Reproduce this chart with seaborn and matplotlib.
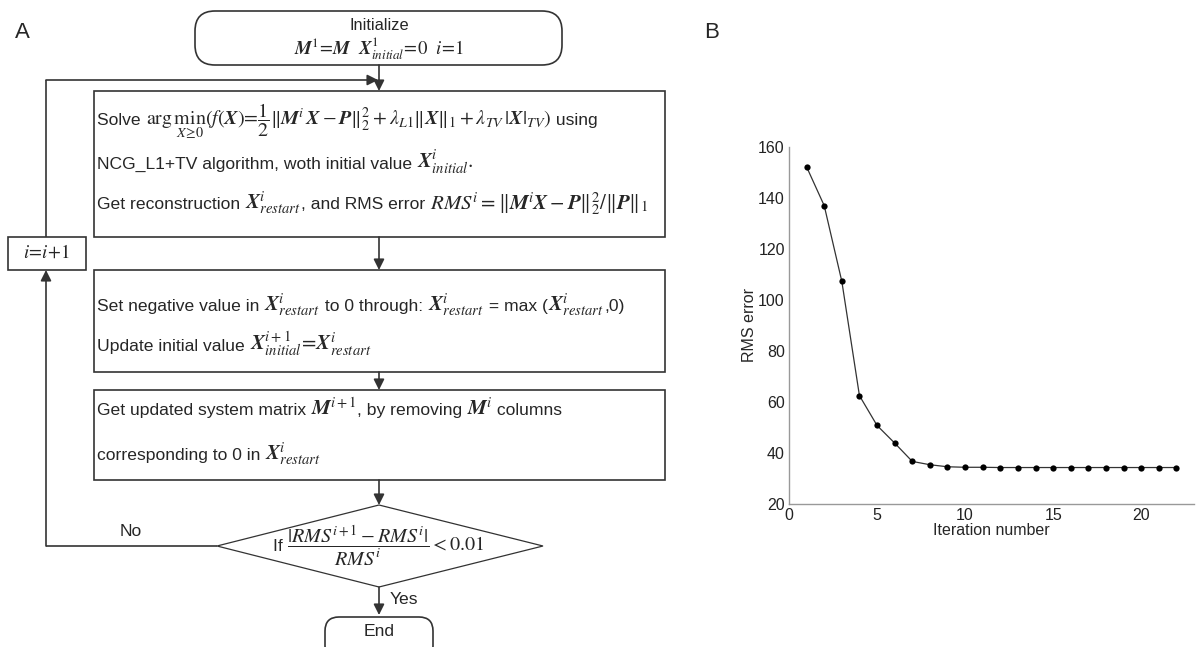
import numpy as np
import pandas as pd
import matplotlib
matplotlib.use("Agg")
import matplotlib.pyplot as plt
import seaborn as sns
from matplotlib.patches import FancyBboxPatch, Rectangle, Polygon

# ---------------- data ----------------
iterations = list(range(1, 23))
rms_error = [152.2, 137.0, 107.3, 62.5, 50.8, 43.9, 36.7, 35.4, 34.6, 34.4, 34.4,
             34.3, 34.3, 34.3, 34.3, 34.3, 34.3, 34.3, 34.3, 34.3, 34.3, 34.3]
x_ticks = [0, 5, 10, 15, 20]
y_ticks = [20, 40, 60, 80, 100, 120, 140, 160]
x_label = "Iteration number"
y_label = "RMS error"
panel_labels = ["A", "B"]

# flowchart texts: segments of (string, kind) with kind 't' = plain text, 'm' = math
init_title = "Initialize"
init_formula = [(r"$\mathbfit{M}^1\!=\!\mathbfit{M}\ \ \mathbfit{X}^1_{initial}\!=\!0\ \ i\!=\!1$", "m")]
solve_lines = [
    [("Solve ", "t"),
     (r"$\arg\min_{X\geq 0}(f(\mathbfit{X}) = \dfrac{1}{2}\Vert\mathbfit{M}^i\mathbfit{X}-\mathbfit{P}\Vert_2^2+\lambda_{L1}\Vert\mathbfit{X}\Vert_1+\lambda_{TV}\,|\mathbfit{X}|_{TV})$", "m"),
     (" using", "t")],
    [("NCG_L1+TV algorithm, woth initial value ", "t"),
     (r"$\mathbfit{X}^i_{initial}.$", "m")],
    [("Get reconstruction ", "t"), (r"$\mathbfit{X}^i_{restart}$", "m"),
     (", and RMS error ", "t"),
     (r"$RMS^i=\Vert\mathbfit{M}^i\mathbfit{X}-\mathbfit{P}\Vert_2^2/\Vert\mathbfit{P}\Vert_1$", "m")],
]
set_lines = [
    [("Set negative value in ", "t"), (r"$\mathbfit{X}^i_{restart}$", "m"),
     (" to 0 through: ", "t"), (r"$\mathbfit{X}^i_{restart}$", "m"),
     (" = max (", "t"), (r"$\mathbfit{X}^i_{restart}$", "m"), (",0)", "t")],
    [("Update initial value ", "t"),
     (r"$\mathbfit{X}^{i+1}_{initial}\!=\!\mathbfit{X}^i_{restart}$", "m")],
]
update_lines = [
    [("Get updated system matrix ", "t"), (r"$\mathbfit{M}^{i+1}$", "m"),
     (", by removing ", "t"), (r"$\mathbfit{M}^i$", "m"), (" columns", "t")],
    [("corresponding to 0 in ", "t"), (r"$\mathbfit{X}^i_{restart}$", "m")],
]
loop_label = [(r"$i\!=\!i\!+\!1$", "m")]
cond_label = [("If ", "t"),
              (r"$\dfrac{|RMS^{i+1}-RMS^i|}{RMS^i}<0.01$", "m")]
no_label, yes_label, end_label = "No", "Yes", "End"

# ---------------- style ----------------
sns.set_style("white")
plt.rcParams["font.family"] = ["Liberation Sans", "DejaVu Sans"]
plt.rcParams["mathtext.fontset"] = "stix"

fig = plt.figure(figsize=(12, 6.47), dpi=100)

# ---------------- panel A: flowchart ----------------
ax0 = fig.add_axes([0, 0, 1, 1])
ax0.set_xlim(0, 1200)
ax0.set_ylim(647, 0)
ax0.axis("off")
fig.canvas.draw()
renderer = fig.canvas.get_renderer()

LC = "#333333"
LW = 1.2
FS = 12.6
FSM = 15.0
CX = 379


def arrow(x0, y0, x1, y1):
    ax0.annotate("", xy=(x1, y1), xytext=(x0, y0),
                 arrowprops=dict(arrowstyle="-|>", color=LC, lw=LW,
                                 mutation_scale=16, shrinkA=0, shrinkB=0))


def line(xs, ys):
    ax0.plot(xs, ys, color=LC, lw=LW, solid_capstyle="butt")


def rbox(x0, y0, x1, y1, r):
    ax0.add_patch(FancyBboxPatch((x0, y0), x1 - x0, y1 - y0,
                                 boxstyle=f"round,pad=0,rounding_size={r}",
                                 fc="white", ec=LC, lw=LW))


def box(x0, y0, x1, y1):
    ax0.add_patch(Rectangle((x0, y0), x1 - x0, y1 - y0, fc="white", ec=LC, lw=LW))


def seg_line(x, y, segs, center=False, fs=FS, fsm=FSM):
    texts, widths = [], []
    for s, kind in segs:
        t = ax0.text(0, y, s, fontsize=fs if kind == "t" else fsm,
                     ha="left", va="baseline", zorder=5)
        w = t.get_window_extent(renderer).width
        texts.append(t)
        widths.append(w)
    total = sum(widths)
    cur = x - total / 2 if center else x
    for t, w in zip(texts, widths):
        t.set_x(cur)
        cur += w


# panel labels
ax0.text(22, 32, panel_labels[0], fontsize=16, ha="center", va="center")
ax0.text(712, 32, panel_labels[1], fontsize=16, ha="center", va="center")

# initialize
rbox(195, 11, 562, 65, 20)
ax0.text(CX, 25, init_title, fontsize=FS - 0.8, ha="center", va="center")
seg_line(CX, 55, init_formula, center=True, fsm=13.5)
arrow(CX, 65, CX, 91)

# solve box
box(94, 91, 665, 237)
seg_line(97, 125, solve_lines[0], fsm=14.4)
seg_line(97, 169, solve_lines[1])
seg_line(97, 209, solve_lines[2])
arrow(CX, 237, CX, 270)

# set box
box(94, 270, 665, 372)
for y, segs in zip([311, 351], set_lines):
    seg_line(97, y, segs)
arrow(CX, 372, CX, 390)

# update box
box(94, 390, 665, 480)
for y, segs in zip([415, 460], update_lines):
    seg_line(97, y, segs)
arrow(CX, 480, CX, 505)

# diamond
ax0.add_patch(Polygon([(CX, 505), (543, 546), (CX, 587), (217, 546)],
                      closed=True, fc="white", ec=LC, lw=0.9))
seg_line(CX, 551, cond_label, center=True, fsm=14.5)

# yes / end
arrow(CX, 587, CX, 615)
ax0.text(390, 600, yes_label, fontsize=FS, ha="left", va="center")
rbox(325, 617, 433, 660, 14)
ax0.text(CX, 632, end_label, fontsize=FS, ha="center", va="center")

# loop back
line([217, 46], [546, 546])
arrow(46, 546, 46, 270)
ax0.text(131, 532, no_label, fontsize=FS, ha="center", va="center")
box(8, 237, 86, 270)
seg_line(47, 258, loop_label, center=True, fsm=13.5)
line([46, 46], [237, 80])
arrow(46, 80, CX - 1, 80)

# ---------------- panel B: line chart ----------------
ax1 = fig.add_axes([789 / 1200, 1 - 504 / 647, 405 / 1200, 357 / 647])
df = pd.DataFrame({"iter": iterations, "rms": rms_error})
sns.lineplot(data=df, x="iter", y="rms", ax=ax1, color="#333333", lw=0.9,
             marker="o", markersize=4.5, markeredgewidth=0, markerfacecolor="black")
ax1.set_xlim(0, 23)
ax1.set_ylim(20, 160)
ax1.set_xticks(x_ticks)
ax1.set_yticks(y_ticks)
ax1.set_xlabel(x_label, fontsize=11.5, labelpad=0)
ax1.set_ylabel(y_label, fontsize=11.5, labelpad=1)
ax1.tick_params(direction="in", length=5, width=0.9, color="#999999",
                labelsize=11.5, labelcolor="#222222", pad=3)
for s in ["top", "right"]:
    ax1.spines[s].set_visible(False)
for s in ["left", "bottom"]:
    ax1.spines[s].set_color("#999999")
    ax1.spines[s].set_linewidth(1.0)
ax1.patch.set_alpha(0)

fig.savefig("out.png", dpi=100)
